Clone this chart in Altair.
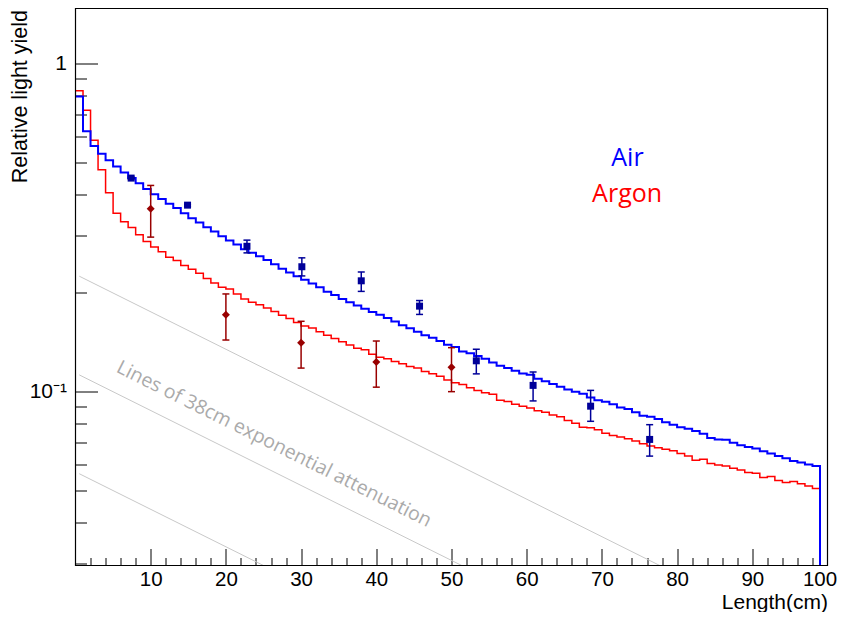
import altair as alt
import pandas as pd

# ---------------- data ----------------
bin_edges = list(range(0, 101))          # 1 cm bins, 0 .. 100 cm
empty_bin = 1e-3                         # bin 99-100 cm is empty (drawn off-scale)

air_sim = [0.794, 0.623, 0.561, 0.532, 0.508, 0.486, 0.466, 0.448, 0.432, 0.415,
           0.400, 0.387, 0.374, 0.363, 0.350, 0.338, 0.328, 0.317, 0.308, 0.298,
           0.289, 0.281, 0.272, 0.265, 0.259, 0.252, 0.2445, 0.237, 0.2307, 0.2249,
           0.2193, 0.2137, 0.208, 0.2018, 0.197, 0.1918, 0.1874, 0.183, 0.179, 0.175,
           0.1716, 0.1677, 0.1636, 0.1594, 0.156, 0.1522, 0.1487, 0.146, 0.1427, 0.1391,
           0.1369, 0.1325, 0.131, 0.1285, 0.1259, 0.1227, 0.120, 0.118, 0.1158, 0.1135,
           0.1127, 0.1094, 0.1076, 0.1056, 0.1035, 0.1016, 0.1000, 0.0986, 0.0959, 0.0941,
           0.0931, 0.0916, 0.0895, 0.0885, 0.0865, 0.0845, 0.0839, 0.0825, 0.0807, 0.0793,
           0.0779, 0.0770, 0.0758, 0.0744, 0.0722, 0.0715, 0.0713, 0.0699, 0.0686, 0.0678,
           0.0671, 0.0658, 0.0648, 0.0637, 0.0626, 0.0614, 0.0608, 0.0600, 0.0593]

argon_sim = [0.828, 0.722, 0.584, 0.475, 0.404, 0.350, 0.330, 0.3166, 0.301, 0.287,
             0.276, 0.267, 0.257, 0.2513, 0.2427, 0.236, 0.2296, 0.2213, 0.2143, 0.208,
             0.2056, 0.1986, 0.1918, 0.1874, 0.184, 0.180, 0.1755, 0.1709, 0.1670, 0.1624,
             0.1586, 0.1564, 0.1522, 0.1487, 0.1453, 0.1420, 0.1388, 0.1357, 0.1341, 0.1301,
             0.1274, 0.1259, 0.1236, 0.1217, 0.1194, 0.1181, 0.1153, 0.1133, 0.1114, 0.1085,
             0.1064, 0.1051, 0.1028, 0.1009, 0.0993, 0.0982, 0.0941, 0.0933, 0.0916, 0.0902,
             0.0891, 0.0874, 0.0865, 0.0849, 0.0839, 0.0816, 0.0801, 0.0779, 0.0776, 0.0765,
             0.0747, 0.0735, 0.0727, 0.0719, 0.0707, 0.0694, 0.0683, 0.0675, 0.0667, 0.0660,
             0.0648, 0.0636, 0.0618, 0.0622, 0.0604, 0.0597, 0.0593, 0.0584, 0.0577, 0.0567,
             0.0564, 0.0547, 0.0551, 0.0536, 0.0528, 0.0532, 0.0524, 0.0516, 0.0507]

air_x = [7.4, 14.9, 22.8, 30.1, 38.0, 45.75, 53.3, 60.85, 68.5, 76.35]
air_y = [0.448, 0.3705, 0.2775, 0.2404, 0.2178, 0.1823, 0.1242, 0.1045, 0.0903, 0.0715]
air_lo = [0.445, 0.368, 0.265, 0.2254, 0.2022, 0.172, 0.1133, 0.0937, 0.0812, 0.0636]
air_hi = [0.451, 0.373, 0.2898, 0.2559, 0.2317, 0.1896, 0.1347, 0.1148, 0.1009, 0.0793]

argon_x = [10.0, 20.0, 30.0, 40.0, 50.0]
argon_y = [0.361, 0.1717, 0.141, 0.1231, 0.1186]
argon_lo = [0.296, 0.1437, 0.118, 0.1032, 0.100]
argon_hi = [0.4255, 0.1986, 0.1639, 0.1427, 0.1362]

att_x = [0.5, 100.0]
att_start_y = [0.225, 0.1125, 0.0562]
att_end_y = [0.0164, 0.0082, 0.0041]

note_text = ["Lines of 38cm exponential attenuation"]
note_x = [26.4]
note_y = [0.0692]

legend_text = ["Air", "Argon"]
legend_x = [73.4, 73.35]
legend_y = [0.4887, 0.379]
legend_color = ["#0000ff", "#ff0000"]

x_range = [0, 100]
y_range = [0.0295, 1.474]

x_major = [10, 20, 30, 40, 50, 60, 70, 80, 90]
x_labels = [10, 20, 30, 40, 50, 60, 70, 80, 90, 100]
x_minor = [v for v in range(2, 100, 2) if v % 10 != 0]
y_major = [0.1, 1.0]
y_minor = [0.03, 0.04, 0.05, 0.06, 0.07, 0.08, 0.09, 0.2, 0.3, 0.4, 0.5, 0.6, 0.7, 0.8, 0.9]

# ---------------- tables ----------------
air_hist = pd.DataFrame({"x": bin_edges, "y": air_sim + [empty_bin, empty_bin]})
argon_hist = pd.DataFrame({"x": bin_edges, "y": argon_sim + [empty_bin, empty_bin]})
att_rows = []
for i, (a, b) in enumerate(zip(att_start_y, att_end_y)):
    att_rows.append({"line": i, "x": att_x[0], "y": a})
    att_rows.append({"line": i, "x": att_x[1], "y": b})
att_df = pd.DataFrame(att_rows)
air_pts = pd.DataFrame({"x": air_x, "y": air_y, "lo": air_lo, "hi": air_hi})
argon_pts = pd.DataFrame({"x": argon_x, "y": argon_y, "lo": argon_lo, "hi": argon_hi})
note_df = pd.DataFrame({"t": note_text, "x": note_x, "y": note_y})
legend_df = pd.DataFrame({"t": legend_text, "x": legend_x, "y": legend_y, "c": legend_color})
frame_df = pd.DataFrame({"x0": [x_range[0]], "x1": [x_range[1]], "y0": [y_range[0]], "y1": [y_range[1]]})

# ---------------- scales & axes ----------------
W, H = 752, 557
xs = alt.Scale(domain=x_range, nice=False, zero=False)
ys = alt.Scale(type="log", domain=y_range, nice=False)
FONT = "Liberation Sans"

x_label_axis = alt.Axis(orient="bottom", values=x_labels, ticks=False, grid=False, domain=False,
                        labelFontSize=20.5, labelFont=FONT, labelColor="black", labelPadding=4,
                        labelFlush=False, labelOverlap=False,
                        labelOffset={"condition": {"test": "datum.value == 100", "value": -8}, "value": 0},
                        title="Length(cm)", titleFont=FONT, titleFontSize=21, titleFontWeight="normal",
                        titleColor="black", titleX=W, titleY=42.5, titleAlign="right",
                        titleBaseline="alphabetic", titleAngle=0)
x_major_axis = alt.Axis(orient="bottom", values=x_major, labels=False, domain=False, grid=False,
                        ticks=True, tickSize=17, tickColor="black", tickWidth=1, offset=-17, title=None)
x_minor_axis = alt.Axis(orient="bottom", values=x_minor, labels=False, domain=False, grid=False,
                        ticks=True, tickSize=8, tickColor="black", tickWidth=1, offset=-8, title=None)

y_label_axis = alt.Axis(orient="left", values=y_major, ticks=False, grid=False, domain=False,
                        labelExpr="datum.value >= 1 ? '1' : '10⁻¹'",
                        labelFontSize=21, labelFont=FONT, labelColor="black", labelPadding=9,
                        title="Relative light yield", titleFont=FONT, titleFontSize=21.5,
                        titleFontWeight="normal", titleColor="black", titleAngle=270,
                        titleX=-49, titleY=1, titleAlign="right", titleBaseline="alphabetic")
y_major_axis = alt.Axis(orient="left", values=y_major, labels=False, domain=False, grid=False,
                        ticks=True, tickSize=22, tickColor="black", tickWidth=1, offset=-22, title=None)
y_minor_axis = alt.Axis(orient="left", values=y_minor, labels=False, domain=False, grid=False,
                        ticks=True, tickSize=11, tickColor="black", tickWidth=1, offset=-11, title=None)

# ---------------- layers ----------------
att = alt.Chart(att_df).mark_line(color="#c8c8c8", strokeWidth=1, clip=True).encode(
    x=alt.X("x:Q", scale=xs, axis=x_minor_axis),
    y=alt.Y("y:Q", scale=ys, axis=y_minor_axis),
    detail="line:N",
)

red = alt.Chart(argon_hist).mark_line(color="#ff0000", strokeWidth=1.5, interpolate="step-after",
                                      clip=True).encode(
    x=alt.X("x:Q", scale=xs, axis=x_major_axis),
    y=alt.Y("y:Q", scale=ys, axis=y_major_axis),
)

blue = alt.Chart(air_hist).mark_line(color="#0000ff", strokeWidth=2, interpolate="step-after",
                                     clip=True).encode(
    x=alt.X("x:Q", scale=xs, axis=x_label_axis),
    y=alt.Y("y:Q", scale=ys, axis=y_label_axis),
)


def err_layers(df, color, marker):
    rule = alt.Chart(df).mark_rule(color=color, strokeWidth=1.5).encode(
        x=alt.X("x:Q", scale=xs, axis=None),
        y=alt.Y("lo:Q", scale=ys, axis=None),
        y2="hi:Q",
    )
    caps = alt.Chart(df).transform_fold(["lo", "hi"], as_=["k", "v"]).mark_tick(
        orient="horizontal", size=7, thickness=1.5, color=color, opacity=1).encode(
        x=alt.X("x:Q", scale=xs, axis=None),
        y=alt.Y("v:Q", scale=ys, axis=None),
    )
    pts = marker.encode(
        x=alt.X("x:Q", scale=xs, axis=None),
        y=alt.Y("y:Q", scale=ys, axis=None),
    )
    return [rule, caps, pts]


argon_layers = err_layers(argon_pts, "#990000",
                          alt.Chart(argon_pts).mark_point(shape="diamond", filled=True, size=64,
                                                          color="#990000", opacity=1))
air_layers = err_layers(air_pts, "#000099",
                        alt.Chart(air_pts).mark_square(size=49, color="#000099", opacity=1))

note = alt.Chart(note_df).mark_text(angle=26.5, align="center", baseline="middle",
                                    font="Open Sans", fontSize=19.5, color="#aaaaaa").encode(
    x=alt.X("x:Q", scale=xs, axis=None),
    y=alt.Y("y:Q", scale=ys, axis=None),
    text="t:N",
)

legend = alt.Chart(legend_df).mark_text(align="center", baseline="alphabetic",
                                        font="Open Sans", fontSize=25).encode(
    x=alt.X("x:Q", scale=xs, axis=None),
    y=alt.Y("y:Q", scale=ys, axis=None),
    text="t:N",
    color=alt.Color("c:N", scale=None),
)

frame = alt.Chart(frame_df).mark_rect(fillOpacity=0, stroke="black", strokeWidth=1.2).encode(
    x=alt.X("x0:Q", scale=xs, axis=None),
    x2="x1:Q",
    y=alt.Y("y0:Q", scale=ys, axis=None),
    y2="y1:Q",
)

chart = alt.layer(att, red, blue, *argon_layers, *air_layers, note, legend, frame).resolve_scale(
    x="shared", y="shared"
).resolve_axis(
    x="independent", y="independent"
).properties(
    width=W, height=H,
    background="white",
    padding={"left": 67.5, "top": 0.5, "right": 9.5, "bottom": 46},
    autosize=alt.AutoSizeParams(type="none"),
).configure_view(
    stroke="transparent"
)

chart.save("out.html", embed_options={"renderer": "svg", "actions": False})
